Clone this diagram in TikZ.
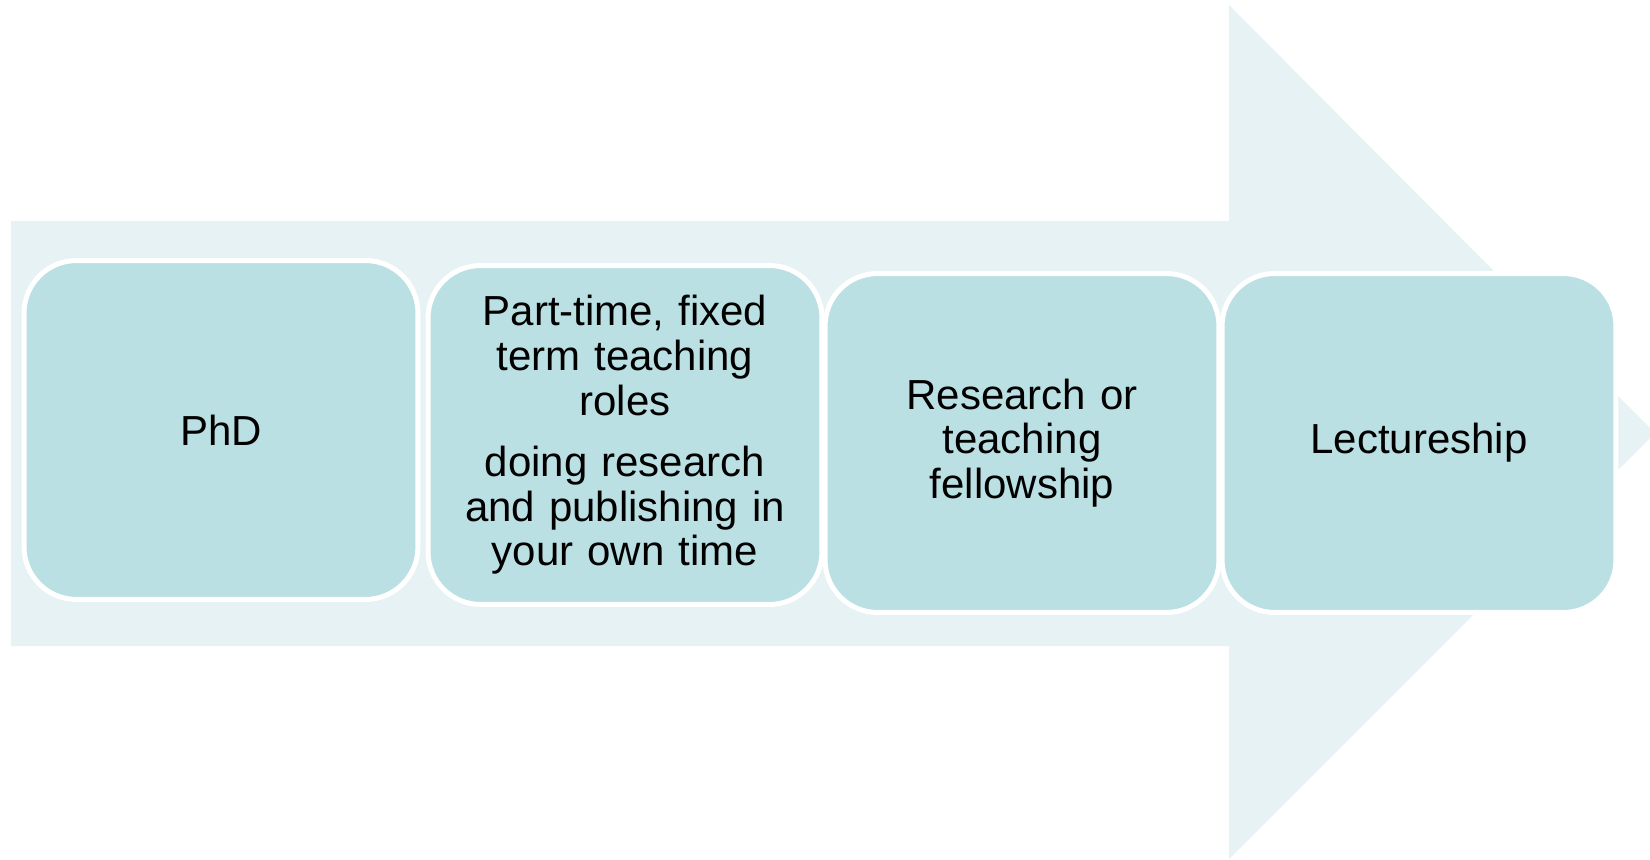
\documentclass[tikz,border=0pt]{standalone}
\usepackage{xcolor}
\usepackage{fontspec}
\setmainfont{Liberation Sans}
\usepackage{tikz}
\usetikzlibrary{calc}
\usetikzlibrary{shapes}
\usetikzlibrary{positioning}

\definecolor{arrowfill}{RGB}{230,242,244}
\definecolor{stagefill}{RGB}{186,224,227}

\tikzset{stage/.style={rectangle, rounded corners=1.05cm, fill=stagefill, draw=white,
  line width=0.1cm, minimum width=7.88cm, minimum height=6.78cm, inner sep=0pt,
  align=center, text width=7.4cm, font=\fontsize{23.9}{25.4}\selectfont}}

\begin{document}
\begin{tikzpicture}[x=0.02cm, y=-0.02cm]
 \useasboundingbox (0, 0) rectangle (1650, 859);
 % big arrow behind the stages
 \fill [arrowfill] (11, 221) -- (1229, 221) -- (1229, 5) -- (1655, 433) -- (1229, 859) -- (1229, 646) -- (11, 646) -- cycle;
 \node [stage] (phd) at (221, 430) {PhD};
 \node [stage] (parttime) at (625, 435) {Part-time, fixed\\ term teaching\\ roles\\[0.34cm] doing research\\ and publishing in\\ your own time};
 \node [stage] (fellowship) at (1022, 443) {Research or\\ teaching\\ fellowship};
 \node [stage] (lecture) at (1419, 443) {Lectureship};
\end{tikzpicture}
\end{document}
